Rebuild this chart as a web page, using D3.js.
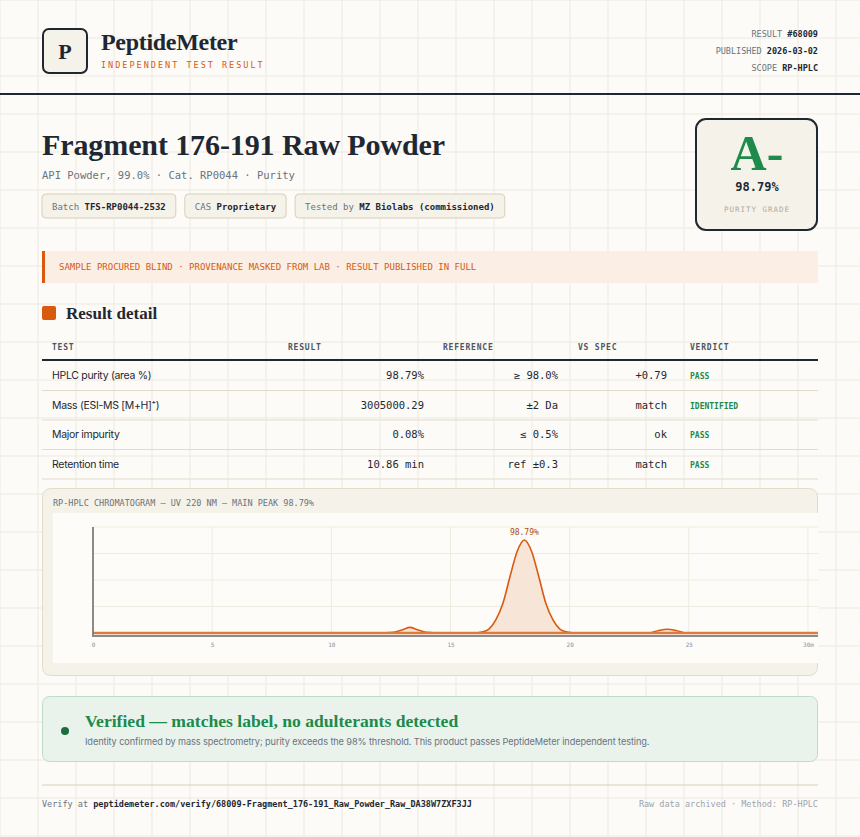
<!DOCTYPE html>
<html><head><meta charset="utf-8">
<script src="https://cdn.jsdelivr.net/npm/d3@7"></script>
<style>
body{margin:0;background:#fcfbf7;}
</style></head><body>
<svg id="c" width="860" height="837"></svg>
<script>
const times=[0,12,12.6,13,13.3,13.6,14,14.6,16,16.3,16.6,16.9,17.2,17.5,17.8,18.1,18.4,18.7,19.0,19.3,19.6,19.9,20.3,23.3,23.7,24.1,24.5,24.9,30];
const signal=[0,0,0.8,3.6,6,3.6,0.8,0,0,1,4,14,32,61,88,100,88,61,32,14,4,1,0,0,2.4,4,2.4,0,0];
const xTicks=[0,5,10,15,20,25,30];
const tableRows=[
 ["HPLC purity (area %)","98.79%","≥ 98.0%","+0.79","PASS"],
 ["Mass (ESI-MS [M+H]⁺)","3005000.29","±2 Da","match","IDENTIFIED"],
 ["Major impurity","0.08%","≤ 0.5%","ok","PASS"],
 ["Retention time","10.86 min","ref ±0.3","match","PASS"]];
const headers=["TEST","RESULT","REFERENCE","VS SPEC","VERDICT"];

const svg=d3.select("#c");
const serif="'Liberation Serif','DejaVu Serif',serif", mono="'DejaVu Sans Mono',monospace", sans="Inter,'Noto Sans',sans-serif";
const dark="#1f2733", orange="#d9590f", green="#1e8a4c", grey="#6b7280";
const g=svg.append("g");
for(let x=0;x<=860;x+=38) g.append("line").attr("x1",x).attr("x2",x).attr("y1",0).attr("y2",837).attr("stroke","#ece9df");
for(let y=0;y<=837;y+=38) g.append("line").attr("y1",y).attr("y2",y).attr("x1",0).attr("x2",860).attr("stroke","#ece9df");
function T(x,y,s,o){const t=svg.append("text").attr("x",x).attr("y",y).text(s);for(const k in o)t.attr(k,o[k]);return t;}
svg.append("rect").attr("x",43).attr("y",29).attr("width",44).attr("height",44).attr("rx",6).attr("fill","#f5f2ea").attr("stroke",dark).attr("stroke-width",2);
T(65,59,"P",{"font-family":serif,"font-size":22,"font-weight":"bold",fill:dark,"text-anchor":"middle"});
T(101,50,"PeptideMeter",{"font-family":serif,"font-size":24,"font-weight":"bold",fill:dark,"letter-spacing":-0.3});
T(101,68,"INDEPENDENT TEST RESULT",{"font-family":mono,"font-size":8.5,fill:orange,"letter-spacing":2});
[["RESULT ","#68009",37],["PUBLISHED ","2026-03-02",54],["SCOPE ","RP-HPLC",71]].forEach(d=>{
 const t=T(818,d[2],"",{"font-family":mono,"font-size":8.5,fill:grey,"text-anchor":"end"});
 t.append("tspan").text(d[0]);t.append("tspan").text(d[1]).attr("fill",dark).attr("font-weight","bold");});
svg.append("rect").attr("x",0).attr("y",93).attr("width",860).attr("height",2).attr("fill",dark);
T(42,155,"Fragment 176-191 Raw Powder",{"font-family":serif,"font-size":30,"font-weight":"bold",fill:dark,"letter-spacing":-0.1});
T(42,179,"API Powder, 99.0% · Cat. RP0044 · Purity",{"font-family":mono,"font-size":10.5,fill:grey});
let cx=42;
[["Batch ","TFS-RP0044-2532"],["CAS ","Proprietary"],["Tested by ","MZ Biolabs (commissioned)"]].forEach(d=>{
 const r=svg.append("rect").attr("x",cx).attr("y",194).attr("height",24).attr("rx",4).attr("fill","#f5f2ea").attr("stroke","#d9cfb8");
 const t=T(cx+10,210,"",{"font-family":mono,"font-size":9,fill:grey});
 t.append("tspan").text(d[0]);t.append("tspan").text(d[1]).attr("fill",dark).attr("font-weight","bold");
 const w=t.node().getComputedTextLength()+20;
 r.attr("width",w);
 cx+=w+9;});
svg.append("rect").attr("x",696).attr("y",119).attr("width",121).attr("height",111).attr("rx",10).attr("fill","#f5f2ea").attr("stroke",dark).attr("stroke-width",2);
T(757,170,"A-",{"font-family":serif,"font-size":50,"font-weight":"bold",fill:green,"text-anchor":"middle"});
T(757,191,"98.79%",{"font-family":mono,"font-size":12,"font-weight":"bold",fill:dark,"text-anchor":"middle"});
T(757,212,"PURITY GRADE",{"font-family":mono,"font-size":7.5,fill:"#b0aa9c","text-anchor":"middle","letter-spacing":1});
svg.append("rect").attr("x",42).attr("y",251).attr("width",776).attr("height",32).attr("fill","#fbeee4");
svg.append("rect").attr("x",42).attr("y",251).attr("width",3).attr("height",32).attr("fill",orange);
T(59,270,"SAMPLE PROCURED BLIND · PROVENANCE MASKED FROM LAB · RESULT PUBLISHED IN FULL",{"font-family":mono,"font-size":9,fill:orange});
svg.append("rect").attr("x",42).attr("y",306).attr("width",14).attr("height",14).attr("rx",2).attr("fill",orange);
T(66,319,"Result detail",{"font-family":serif,"font-size":17,"font-weight":"bold",fill:dark});
const hx=[52,288,443,578,690];
headers.forEach((h,i)=>T(hx[i],350,h,{"font-family":mono,"font-size":8,"font-weight":"bold",fill:"#4b5563","letter-spacing":0.8}));
svg.append("rect").attr("x",42).attr("y",359).attr("width",776).attr("height",2).attr("fill",dark);
const ax=[424,558,667];
tableRows.forEach((r,i)=>{
 const y=379+i*29.5;
 T(52,y,r[0],{"font-family":sans,"font-size":10.5,fill:dark,"letter-spacing":-0.3});
 [1,2,3].forEach(j=>T(ax[j-1],y,r[j],{"font-family":mono,"font-size":10.5,fill:dark,"text-anchor":"end"}));
 T(690,y,r[4],{"font-family":mono,"font-size":8,"font-weight":"bold",fill:green});
 svg.append("line").attr("x1",42).attr("x2",818).attr("y1",y+11.5).attr("y2",y+11.5).attr("stroke","#e3dccb").attr("stroke-width",1.2);
});
svg.append("rect").attr("x",42.5).attr("y",488.5).attr("width",775).attr("height",187).attr("rx",8).attr("fill","#f5f2ea").attr("stroke","#e3dccb");
T(53,506,"RP-HPLC CHROMATOGRAM — UV 220 NM — MAIN PEAK 98.79%",{"font-family":mono,"font-size":8.5,fill:grey});
svg.append("rect").attr("x",53).attr("y",513).attr("width",765).attr("height",150).attr("fill","#fdfcf8");
const x=d3.scaleLinear().domain([0,30]).range([93,808]);
const y=d3.scaleLinear().domain([0,114]).range([633,527]);
const pg=svg.append("g");
xTicks.forEach(t=>pg.append("line").attr("x1",x(t)).attr("x2",x(t)).attr("y1",527).attr("y2",633).attr("stroke","#efebe0"));
[0.25,0.5,0.75,1].forEach(f=>pg.append("line").attr("x1",93).attr("x2",818).attr("y1",633-106*f).attr("y2",633-106*f).attr("stroke","#efebe0").attr("stroke-width",1.2));
const pts=times.map((t,i)=>[t,signal[i]]);
pg.append("path").datum(pts).attr("d",d3.area().x(d=>x(d[0])).y0(y(0)).y1(d=>y(d[1])).curve(d3.curveMonotoneX)).attr("fill","#f7e6d8");
pg.append("line").attr("x1",93).attr("x2",818).attr("y1",636).attr("y2",636).attr("stroke","#8a8a8a").attr("stroke-width",2);
pg.append("line").attr("x1",93).attr("x2",93).attr("y1",527).attr("y2",637).attr("stroke","#8a8a8a").attr("stroke-width",2);
pg.append("path").datum(pts).attr("d",d3.line().x(d=>x(d[0])).y(d=>y(d[1])).curve(d3.curveMonotoneX)).attr("fill","none").attr("stroke",orange).attr("stroke-width",1.6);
pg.append("line").attr("x1",94).attr("x2",818).attr("y1",y(0)).attr("y2",y(0)).attr("stroke","#e07a3c").attr("stroke-width",2.5);
const axis=pg.append("g").attr("transform","translate(0,637)").call(d3.axisBottom(x).tickValues(xTicks).tickSize(0).tickFormat(d=>d===30?"30m":d));
axis.select(".domain").remove();
axis.selectAll("text").attr("font-family",mono).attr("font-size",6).attr("fill","#8a8f99").attr("dy","1.2em");
T(x(18.1),535,"98.79%",{"font-family":mono,"font-size":8,fill:"#b14a0e","text-anchor":"middle"});
svg.append("rect").attr("x",42.5).attr("y",696.5).attr("width",775).attr("height",65).attr("rx",7).attr("fill","#e9f3eb").attr("stroke","#bfdcc7");
svg.append("circle").attr("cx",65).attr("cy",731).attr("r",4).attr("fill","#1a6e3c");
T(85,727,"Verified — matches label, no adulterants detected",{"font-family":serif,"font-size":17.6,"font-weight":"bold",fill:green});
T(85,745,"Identity confirmed by mass spectrometry; purity exceeds the 98% threshold. This product passes PeptideMeter independent testing.",{"font-family":sans,"font-size":9.2,fill:grey,"letter-spacing":-0.1});
svg.append("line").attr("x1",42).attr("x2",818).attr("y1",785).attr("y2",785).attr("stroke","#d9cfb8");
const f=T(42,807,"",{"font-family":mono,"font-size":8.5,fill:grey});
f.append("tspan").text("Verify at ");f.append("tspan").text("peptidemeter.com/verify/68009-Fragment_176-191_Raw_Powder_Raw_DA38W7ZXF3JJ").attr("fill",dark).attr("font-weight","bold");
T(818,807,"Raw data archived · Method: RP-HPLC",{"font-family":mono,"font-size":8.5,fill:"#9ca3af","text-anchor":"end"});
</script></body></html>
